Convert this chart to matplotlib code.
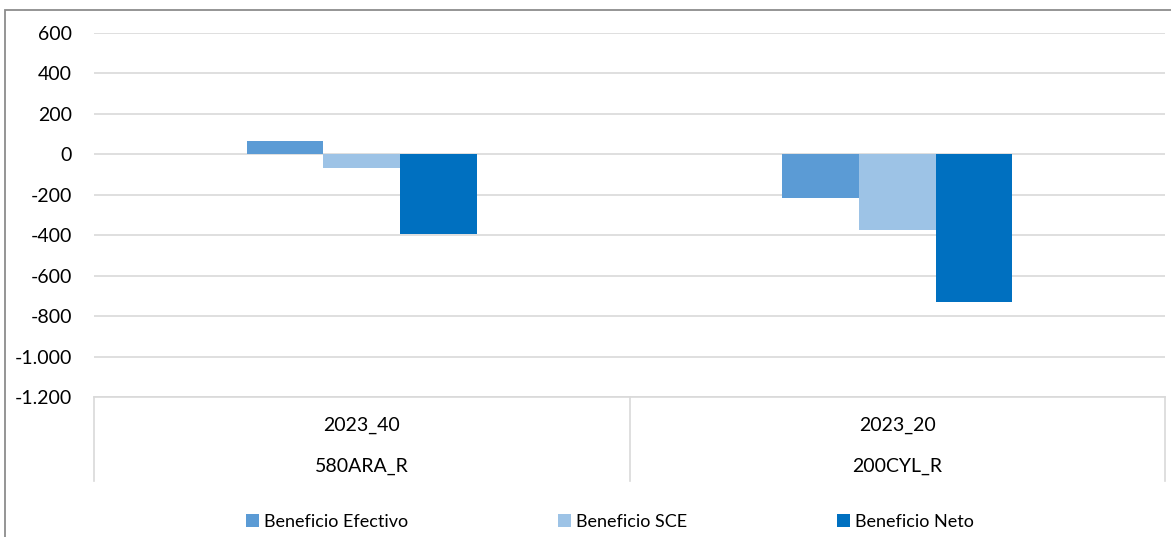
import matplotlib
matplotlib.use("Agg")
import matplotlib.pyplot as plt
import numpy as np
from matplotlib.ticker import FuncFormatter, MultipleLocator
from matplotlib.patches import Rectangle

plt.rcParams['font.family'] = ['Lato', 'DejaVu Sans']

# ---- data ----
categories_top = ["2023_40", "2023_20"]
categories_bottom = ["580ARA_R", "200CYL_R"]
series_names = ["Beneficio Efectivo", "Beneficio SCE", "Beneficio Neto"]
efectivo = [65, -218]
sce = [-67, -372]
neto = [-394, -728]
colors = ["#5B9BD5", "#9DC3E6", "#0070C0"]

W, H = 1171, 537
fig = plt.figure(figsize=(W / 100, H / 100), dpi=100)

# outer chart frame (extends beyond the right/bottom edges)
fig.patches.append(Rectangle((4.5 / W, -0.1), 1.2, (H - 9.5) / H + 0.1,
                             transform=fig.transFigure, fill=False,
                             edgecolor="#8c8c8c", linewidth=1.3))

left, right = 94 / W, 1165 / W
top, bottom = (H - 33) / H, (H - 397) / H
ax = fig.add_axes([left, bottom, right - left, top - bottom])

x = np.arange(len(categories_top))
bw = 0.143
series = [efectivo, sce, neto]
for i, (vals, name, c) in enumerate(zip(series, series_names, colors)):
    ax.bar(x + (i - 1) * bw, vals, width=bw, color=c, label=name,
           edgecolor="none", zorder=3)

ax.set_xlim(-0.5, len(categories_top) - 0.5)
ax.set_ylim(-1200, 600)
ax.yaxis.set_major_locator(MultipleLocator(200))
ax.yaxis.set_major_formatter(FuncFormatter(lambda v, p: f"{int(v):,}".replace(",", ".")))
ax.grid(axis="y", color="#d9d9d9", linewidth=1.2, zorder=0)
ax.tick_params(axis="y", length=0, pad=16, labelsize=14, labelcolor="#000000")
ax.tick_params(axis="x", length=0, labelbottom=False)
for s in ["top", "right", "left", "bottom"]:
    ax.spines[s].set_visible(False)

# multi-level category axis
ax_h = (top - bottom) * H
drop = (481 - 397) / ax_h
lc = "#d9d9d9"
for xv in [0.0, 0.5, 1.0]:
    ax.plot([xv, xv], [0, -drop], transform=ax.transAxes, color=lc,
            linewidth=1.2, clip_on=False)
ax.plot([0, 1], [0, 0], transform=ax.transAxes, color=lc, linewidth=1.2, clip_on=False)
for i in range(len(categories_top)):
    fig.text(left + (right - left) * (i + 0.5) / len(categories_top), (H - 425) / H,
             categories_top[i], ha="center", va="center", fontsize=14)
    fig.text(left + (right - left) * (i + 0.5) / len(categories_top), (H - 466) / H,
             categories_bottom[i], ha="center", va="center", fontsize=14)

leg = fig.legend(loc="center", bbox_to_anchor=(0.521, (H - 522) / H), ncol=3,
                 frameon=False, fontsize=13, handlelength=0.7, handleheight=0.7,
                 handletextpad=0.3, columnspacing=8.3)

fig.savefig("out.png", dpi=100)
